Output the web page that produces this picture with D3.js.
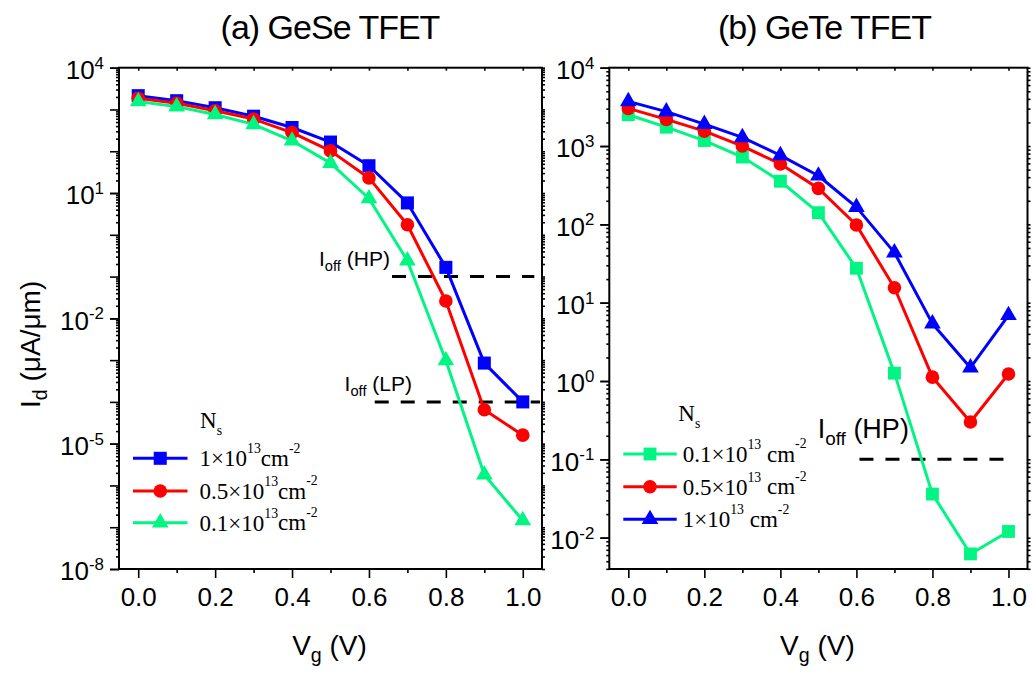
<!DOCTYPE html>
<html>
<head>
<meta charset="utf-8">
<script src="https://cdn.jsdelivr.net/npm/d3@7"></script>
<style>
  body { margin: 0; background: #fff; }
  svg { display: block; }
</style>
</head>
<body>
<svg id="chart" width="1032" height="673"></svg>
<script>
// gate voltage (V)
const vg = [0, 0.1, 0.2, 0.3, 0.4, 0.5, 0.6, 0.7, 0.8, 0.9, 1.0]

// (a) GeSe TFET, Id in uA/um
const geseNs10 = [2140, 1620, 1100, 690, 370, 166, 45, 5.8, 0.166, 8.5e-4, 1.0e-4]
const geseNs05 = [1860, 1410, 930, 590, 280, 102, 23, 1.74, 0.026, 6.5e-5, 1.6e-5]
const geseNs01 = [1550, 1170, 760, 440, 178, 52, 7.4, 0.24, 9.8e-4, 1.8e-6, 1.45e-7]

// (b) GeTe TFET
const geteNs01 = [2510, 1740, 1175, 724, 355, 141, 27.5, 1.26, 0.036, 0.0062, 0.012]
const geteNs05 = [3020, 2190, 1550, 1000, 590, 288, 98, 15.5, 1.12, 0.30, 1.23]
const geteNs10 = [3720, 2750, 1900, 1290, 760, 417, 166, 43.6, 5.4, 1.48, 6.9]

// tick values
const xTicks = [0, 0.2, 0.4, 0.6, 0.8, 1.0]
const xMinor = [0.1, 0.3, 0.5, 0.7, 0.9]
const geseYTicks = [1e-8, 1e-5, 1e-2, 1e1, 1e4]
const geteYTicks = [1e-2, 1e-1, 1e0, 1e1, 1e2, 1e3, 1e4]

// off-current reference levels: [label, level, from Vg, to Vg]
const geseOff = [["HP", 0.1, 0.66, 1.03], ["LP", 1e-4, 0.615, 1.045]]
const geteOff = [["HP", 0.1, 0.608, 1.018]]

const sans = "'Liberation Sans', Arial, sans-serif"
const serif = "'Liberation Serif', 'Times New Roman', serif"
const BLUE = "#0000ff", RED = "#ff0000", GREEN = "#00f582"

const svg = d3.select("#chart")

const panels = [
  {
    title: "(a) GeSe TFET", titleX: 330, left: 119, right: 542, top: 67.7, bottom: 569,
    yDomain: [1e-8, 1e4], yTicks: geseYTicks, yLabel: true,
    series: [
      { label: ["1×10", "13", "cm", "-2"], values: geseNs10, color: BLUE, symbol: d3.symbolSquare, size: 170 },
      { label: ["0.5×10", "13", "cm", "-2"], values: geseNs05, color: RED, symbol: d3.symbolCircle, size: 145 },
      { label: ["0.1×10", "13", "cm", "-2"], values: geseNs01, color: GREEN, symbol: d3.symbolTriangle, size: 120 }
    ],
    off: geseOff,
    offText: [{ x: 319, y: 266, size: 21 }, { x: 344.6, y: 391, size: 21 }],
    legend: { nsX: 200, nsY: 428, x0: 133, x1: 187.5, tx: 199.5, rows: [458.3, 491, 522.7] }
  },
  {
    title: "(b) GeTe TFET", titleX: 824.5, left: 609.3, right: 1027.5, top: 67.7, bottom: 569,
    yDomain: [Math.pow(10, -2.4), 1e4], yTicks: geteYTicks, yLabel: false,
    series: [
      { label: ["0.1×10", "13", " cm", "-2"], values: geteNs01, color: GREEN, symbol: d3.symbolSquare, size: 165 },
      { label: ["0.5×10", "13", " cm", "-2"], values: geteNs05, color: RED, symbol: d3.symbolCircle, size: 145 },
      { label: ["1×10", "13", " cm", "-2"], values: geteNs10, color: BLUE, symbol: d3.symbolTriangle, size: 120 }
    ],
    off: geteOff,
    offText: [{ x: 817.7, y: 438, size: 27 }],
    legend: { nsX: 678.3, nsY: 420.7, x0: 623.3, x1: 676.7, tx: 682.7, rows: [454, 486.7, 519.3] }
  }
]

function logMinor(domain) {
  const out = []
  const lo = Math.floor(Math.log10(domain[0])), hi = Math.ceil(Math.log10(domain[1]))
  for (let e = lo; e <= hi; e++) {
    for (let k = 1; k <= 9; k++) {
      const v = k * Math.pow(10, e)
      if (v >= domain[0] * 0.999 && v <= domain[1] * 1.001) out.push(v)
    }
  }
  return out
}

panels.forEach(p => {
  const x = d3.scaleLinear().domain([-0.05, 1.05]).range([p.left, p.right])
  const y = d3.scaleLog().domain(p.yDomain).range([p.bottom, p.top])

  const allLog = logMinor(p.yDomain)
  const decades = allLog.filter(v => Math.abs(Math.log10(v) - Math.round(Math.log10(v))) < 1e-9)
  const minorLog = allLog.filter(v => !decades.includes(v))

  // small log ticks on the left
  svg.append("g")
    .attr("transform", `translate(${p.left},0)`)
    .call(d3.axisLeft(y).tickValues(minorLog).tickSize(3).tickFormat(""))
    .call(g => g.select(".domain").remove())

  // decade ticks on the left
  svg.append("g")
    .attr("transform", `translate(${p.left},0)`)
    .call(d3.axisLeft(y).tickValues(decades).tickSize(9).tickFormat(""))
    .call(g => g.select(".domain").remove())

  // labelled left ticks
  svg.append("g")
    .attr("transform", `translate(${p.left},0)`)
    .call(d3.axisLeft(y).tickValues(p.yTicks).tickSize(9).tickPadding(6).tickFormat(""))
    .call(g => g.select(".domain").remove())
    .call(g => g.selectAll(".tick text")
      .attr("font-family", sans)
      .attr("font-size", 26)
      .attr("fill", "#000")
      .attr("dy", "0.42em")
      .each(function(d) {
        const t = d3.select(this)
        t.append("tspan").text("10")
        t.append("tspan").attr("font-size", "0.65em").attr("dy", "-0.62em")
          .text(Math.round(Math.log10(d)))
      }))

  // mirrored ticks on the right
  svg.append("g")
    .attr("transform", `translate(${p.right},0)`)
    .call(d3.axisRight(y).tickValues(allLog).tickSize(3).tickFormat(""))
    .call(g => g.select(".domain").remove())

  // bottom axis
  svg.append("g")
    .attr("transform", `translate(0,${p.bottom})`)
    .call(d3.axisBottom(x).tickValues(xMinor).tickSize(4).tickFormat(""))
    .call(g => g.select(".domain").remove())

  svg.append("g")
    .attr("transform", `translate(0,${p.bottom})`)
    .call(d3.axisBottom(x).tickValues(xTicks).tickSize(9).tickPadding(10).tickFormat(d3.format(".1f")))
    .call(g => g.select(".domain").remove())
    .call(g => g.selectAll(".tick text")
      .attr("font-family", sans)
      .attr("font-size", 26)
      .attr("fill", "#000"))

  // top axis, ticks inward
  svg.append("g")
    .attr("transform", `translate(0,${p.top})`)
    .call(d3.axisTop(x).tickValues(xTicks.concat(xMinor)).tickSize(-3).tickFormat(""))
    .call(g => g.select(".domain").remove())

  svg.selectAll(".tick line").attr("stroke", "#000").attr("stroke-width", 1.6)

  // frame
  svg.append("rect")
    .attr("x", p.left).attr("y", p.top)
    .attr("width", p.right - p.left).attr("height", p.bottom - p.top)
    .attr("fill", "none").attr("stroke", "#000").attr("stroke-width", 2)

  // Ioff levels
  p.off.forEach((o, i) => {
    svg.append("line")
      .attr("x1", x(o[2])).attr("x2", x(o[3]))
      .attr("y1", y(o[1])).attr("y2", y(o[1]))
      .attr("stroke", "#000").attr("stroke-width", 3)
      .attr("stroke-dasharray", "14,12")
    const ot = p.offText[i]
    const t = svg.append("text")
      .attr("x", ot.x).attr("y", ot.y)
      .attr("font-family", sans).attr("font-size", ot.size)
    t.append("tspan").text("I")
    t.append("tspan").attr("font-size", "0.7em").attr("dy", "0.35em").text("off")
    t.append("tspan").attr("dy", "-0.245em").text(" (" + o[0] + ")")
  })

  // series
  const line = d3.line().x((d, i) => x(vg[i])).y(d => y(d))
  p.series.forEach(s => {
    svg.append("path")
      .attr("d", line(s.values))
      .attr("fill", "none")
      .attr("stroke", s.color)
      .attr("stroke-width", 3)
      .attr("stroke-linejoin", "round")
    svg.append("g")
      .selectAll("path")
      .data(s.values)
      .join("path")
      .attr("transform", (d, i) => `translate(${x(vg[i])},${y(d)})`)
      .attr("d", d3.symbol(s.symbol, s.size))
      .attr("fill", s.color)
  })

  // legend
  const lg = p.legend
  const ns = svg.append("text")
    .attr("x", lg.nsX).attr("y", lg.nsY)
    .attr("font-family", serif).attr("font-size", 23)
  ns.append("tspan").text("N")
  ns.append("tspan").attr("font-size", "0.6em").attr("dy", "0.5em").text("s")

  p.series.forEach((s, i) => {
    const ry = lg.rows[i]
    svg.append("line")
      .attr("x1", lg.x0).attr("x2", lg.x1)
      .attr("y1", ry).attr("y2", ry)
      .attr("stroke", s.color).attr("stroke-width", 3)
    svg.append("path")
      .attr("transform", `translate(${(lg.x0 + lg.x1) / 2},${ry})`)
      .attr("d", d3.symbol(s.symbol, s.size))
      .attr("fill", s.color)
    const t = svg.append("text")
      .attr("x", lg.tx).attr("y", ry + 8)
      .attr("font-family", serif).attr("font-size", 23)
    t.append("tspan").text(s.label[0])
    t.append("tspan").attr("font-size", "0.6em").attr("dy", "-0.95em").text(s.label[1])
    t.append("tspan").attr("dy", "0.55em").text(s.label[2])
    t.append("tspan").attr("font-size", "0.6em").attr("dy", "-0.95em").text(s.label[3])
  })

  // title
  svg.append("text")
    .attr("x", p.titleX).attr("y", 39)
    .attr("text-anchor", "middle")
    .attr("font-family", sans).attr("font-size", 34)
    .attr("letter-spacing", -1)
    .text(p.title)

  // x label
  const xl = svg.append("text")
    .attr("x", x(0.5) - 1).attr("y", 655)
    .attr("text-anchor", "middle")
    .attr("font-family", sans).attr("font-size", 28)
  xl.append("tspan").text("V")
  xl.append("tspan").attr("font-size", "0.7em").attr("dy", "0.35em").text("g")
  xl.append("tspan").attr("dy", "-0.245em").text(" (V)")

  if (p.yLabel) {
    const yl = svg.append("text")
      .attr("transform", `translate(40,${(p.top + p.bottom) / 2 + 26}) rotate(-90)`)
      .attr("text-anchor", "middle")
      .attr("font-family", sans).attr("font-size", 28)
    yl.append("tspan").text("I")
    yl.append("tspan").attr("font-size", "0.7em").attr("dy", "0.35em").text("d")
    yl.append("tspan").attr("dy", "-0.245em").text(" (μA/μm)")
  }
})
</script>
</body>
</html>
